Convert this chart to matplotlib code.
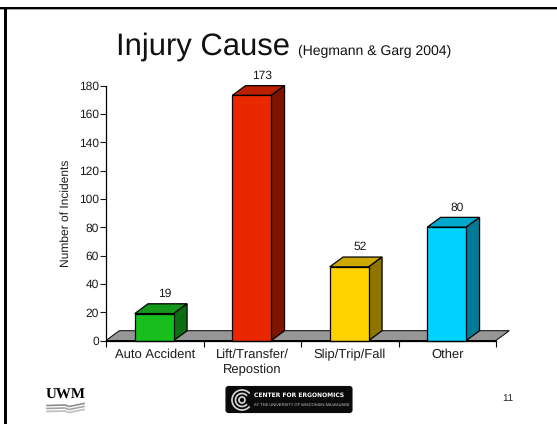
import matplotlib
matplotlib.use("Agg")
import matplotlib.pyplot as plt
from matplotlib.patches import Polygon, FancyBboxPatch, Rectangle, Arc

causes = ["Auto Accident", "Lift/Transfer/\nRepostion", "Slip/Trip/Fall", "Other"]
incidents = [19, 173, 52, 80]
front_colors = ["#18BE1E", "#E92800", "#FFD200", "#00D2FF"]
top_colors = ["#13981A", "#BA2000", "#CCA800", "#00A8CC"]
side_colors = ["#0C6E10", "#7F1300", "#8F7600", "#007A96"]
y_ticks = list(range(0, 181, 20))

W, H = 557, 424
DPI = 100
plt.rcParams["font.family"] = ["Liberation Sans", "DejaVu Sans"]
plt.rcParams["text.hinting"] = "no_hinting"
plt.rcParams["text.hinting_factor"] = 1

fig = plt.figure(figsize=(W / DPI, H / DPI), dpi=DPI, facecolor="white")


def fx(px):
    return px / W


def fy(py):
    return 1 - py / H


# Slide frame along the top and left edges
fig.add_artist(Rectangle((fx(0), fy(10)), 1, 0.9 / H, transform=fig.transFigure, color="#A8A8A8", lw=0))
fig.add_artist(Rectangle((fx(0), fy(9.3)), 1, 2.5 / H, transform=fig.transFigure, color="black", lw=0))
fig.add_artist(Rectangle((fx(4), 0), 2.5 / W, fy(7), transform=fig.transFigure, color="black", lw=0))

# Plot area
left, right, top, bottom = 106, 496, 85.5, 340.5
ax = fig.add_axes([fx(left), fy(bottom), (right - left) / W, (bottom - top) / H])
ax.set_xlim(0, 4)
ax.set_ylim(0, 180)
ax.patch.set_alpha(0)
for s in ("top", "right"):
    ax.spines[s].set_visible(False)
for s in ("left", "bottom"):
    ax.spines[s].set_linewidth(0.9)
    ax.spines[s].set_zorder(6)

depth_x = 13.3 / ((right - left) / 4)
depth_y = 9.8 / ((bottom - top) / 180)

# Chart floor in perspective
ax.add_patch(Polygon([(0, 0), (depth_x, depth_y), (4 + depth_x, depth_y), (4, 0)], closed=True,
                     facecolor="#969696", edgecolor="black", lw=0.7, clip_on=False, zorder=1))

# Extruded bars
half = 0.2
for i, (v, fc, tc, sc) in enumerate(zip(incidents, front_colors, top_colors, side_colors)):
    c = i + 0.495
    x0, x1 = c - half, c + half
    ax.add_patch(Polygon([(x0, v), (x0 + depth_x, v + depth_y), (x1 + depth_x, v + depth_y), (x1, v)],
                         closed=True, facecolor=tc, edgecolor="black", lw=0.9, clip_on=False, zorder=3))
    ax.add_patch(Polygon([(x1, 0), (x1 + depth_x, depth_y), (x1 + depth_x, v + depth_y), (x1, v)],
                         closed=True, facecolor=sc, edgecolor="black", lw=0.9, clip_on=False, zorder=3))
    ax.bar(c, v, width=2 * half, color=fc, edgecolor="black", linewidth=0.9, zorder=4, clip_on=False)
    ax.annotate(str(v), (c + depth_x / 2, v + depth_y), xytext=(2.8, 3.2), textcoords="offset points",
                ha="center", va="bottom", fontsize=8.3, color="#1A1A1A", annotation_clip=False)

ax.set_yticks(y_ticks)
ax.set_xticks(range(5))
ax.set_xticklabels([])
ax.tick_params(axis="y", labelsize=8.3, length=4, width=0.8, pad=1.2, colors="#1A1A1A")
ax.tick_params(axis="x", length=4, width=0.8, direction="out")
ax.set_ylabel("Number of Incidents", fontsize=8.5, color="#1A1A1A")
ax.yaxis.set_label_coords((71 - left) / (right - left), 0.5)

for i, name in enumerate(causes):
    for j, line in enumerate(name.split("\n")):
        fig.text(fx(left + (i + 0.495) * (right - left) / 4 + 0.5), fy(355 + 15 * j), line, ha="center",
                 va="center", fontsize=9, color="#1A1A1A")

# Heading
fig.text(fx(115.5), fy(55), "Injury Cause", fontsize=22, ha="left", va="baseline", color="#111111")
fig.text(fx(298), fy(55), "(Hegmann & Garg 2004)", fontsize=10, ha="left", va="baseline", color="#111111")

# Page number
fig.text(fx(508), fy(398), "11", fontsize=7.2, ha="center", va="center", color="#222222")

# University mark
fig.text(fx(65.5), fy(395), "UWM", fontsize=10.5, family=["Liberation Serif"], weight="bold",
         ha="center", va="center", color="black")
logo_ax = fig.add_axes([0, 0, 1, 1], facecolor="none")
logo_ax.set_xlim(0, W)
logo_ax.set_ylim(H, 0)
logo_ax.axis("off")
for y, col in zip((405, 408, 411), ("#8C8C8C", "#A5A5A5", "#BEBEBE")):
    logo_ax.plot([47, 65, 69, 84], [y + 0.5, y, y + 1.5, y - 1.5], color=col, lw=1.2)

# Center for Ergonomics badge
logo_ax.add_patch(FancyBboxPatch((226, 386.5), 126, 26, boxstyle="round,pad=0,rounding_size=2.5",
                                 facecolor="#0A0A0A", edgecolor="#0A0A0A", lw=0.8))
logo_ax.add_patch(Arc((242, 400), 20, 20, theta1=40, theta2=320, color="#D8D8D8", lw=1.2))
logo_ax.add_patch(Arc((242, 400), 13, 13, theta1=40, theta2=320, color="#D8D8D8", lw=1.2))
logo_ax.add_patch(Arc((242, 400), 6, 6, theta1=0, theta2=360, color="#D8D8D8", lw=1.2))
logo_ax.text(254, 395, "CENTER FOR ERGONOMICS", fontsize=4.1, weight="bold", color="white",
             family=["DejaVu Sans"], va="center", ha="left")
logo_ax.text(254, 404.7, "AT THE UNIVERSITY OF WISCONSIN-MILWAUKEE", fontsize=2.75, color="#D0D0D0",
             family=["Liberation Sans"], va="center", ha="left")

fig.savefig("out.png", dpi=DPI)
